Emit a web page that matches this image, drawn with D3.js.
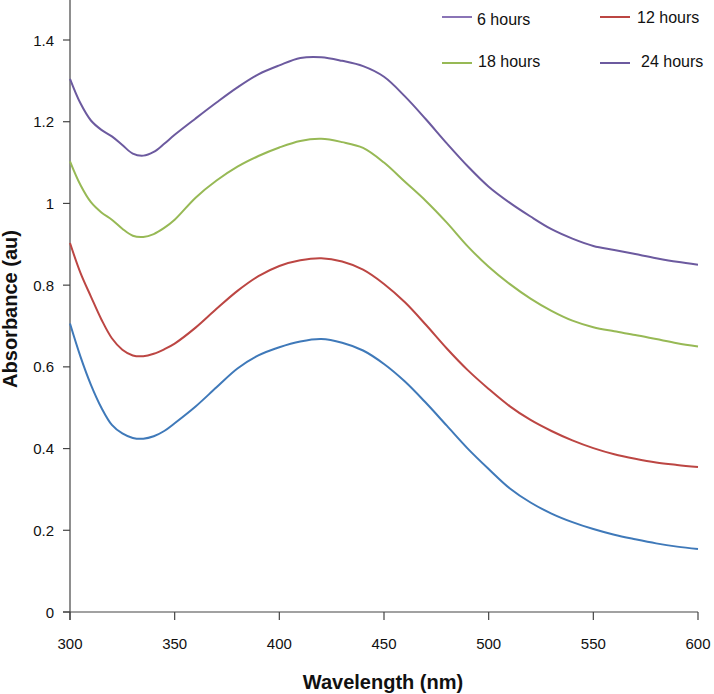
<!DOCTYPE html>
<html>
<head>
<meta charset="utf-8">
<script src="https://cdn.jsdelivr.net/npm/d3@7"></script>
<style>
  html, body { margin: 0; padding: 0; background: #fff; }
  svg { display: block; font-family: "Liberation Sans", Arial, sans-serif; }
</style>
</head>
<body>
<svg id="chart" width="714" height="694"></svg>
<script>
// ---- data ----
const wavelengths = [300,305,310,315,320,325,330,335,340,345,350,360,370,380,390,400,410,420,430,440,450,460,470,480,490,500,510,520,530,540,550,560,570,580,590,600];

const blueSeries = [0.706,0.625,0.556,0.500,0.458,0.437,0.426,0.424,0.430,0.443,0.462,0.503,0.550,0.596,0.628,0.648,0.662,0.668,0.659,0.640,0.607,0.564,0.512,0.456,0.400,0.350,0.303,0.268,0.241,0.220,0.203,0.189,0.178,0.168,0.160,0.154];
const redSeries = [0.903,0.830,0.772,0.716,0.670,0.642,0.628,0.626,0.632,0.643,0.657,0.696,0.742,0.786,0.822,0.847,0.861,0.866,0.858,0.838,0.803,0.758,0.703,0.645,0.592,0.546,0.504,0.470,0.443,0.420,0.401,0.386,0.375,0.366,0.360,0.355];
const greenSeries = [1.103,1.045,1.003,0.978,0.960,0.938,0.921,0.918,0.925,0.940,0.960,1.014,1.056,1.090,1.116,1.137,1.153,1.158,1.150,1.136,1.100,1.053,1.006,0.953,0.895,0.845,0.803,0.767,0.737,0.713,0.697,0.687,0.678,0.668,0.658,0.650];
const purpleSeries = [1.305,1.245,1.203,1.180,1.164,1.143,1.122,1.117,1.126,1.146,1.168,1.208,1.247,1.284,1.316,1.338,1.356,1.358,1.349,1.336,1.310,1.262,1.206,1.147,1.091,1.041,1.002,0.968,0.937,0.914,0.896,0.886,0.876,0.866,0.857,0.850];

const xTicks = [300,350,400,450,500,550,600];
const yTicks = [0,0.2,0.4,0.6,0.8,1,1.2,1.4];
const legendLabels = ["6 hours","12 hours","18 hours","24 hours"];

// ---- styles ----
const seriesList = [
  {values: blueSeries,   color: "#3F79B9"},
  {values: redSeries,    color: "#BC4643"},
  {values: greenSeries,  color: "#97B955"},
  {values: purpleSeries, color: "#6C5A9F"}
];
const legendColors = ["#8A74B6","#BC4643","#97B955","#6C5A9F"];

const svg = d3.select("#chart");
const x = d3.scaleLinear().domain([300,600]).range([70,698]);
const y = d3.scaleLinear().domain([0,1.4]).range([612,40]);
const axisColor = "#444";

// y axis
const yAxis = svg.append("g").attr("transform","translate(70,0)");
yAxis.append("line").attr("x1",0).attr("x2",0).attr("y1",0).attr("y2",620)
  .attr("stroke",axisColor).attr("stroke-width",1.2);
yAxis.selectAll("line.tick").data(yTicks).enter().append("line")
  .attr("class","tick").attr("x1",-7).attr("x2",0)
  .attr("y1",d=>y(d)).attr("y2",d=>y(d))
  .attr("stroke",axisColor).attr("stroke-width",1.2);
yAxis.selectAll("text").data(yTicks).enter().append("text")
  .attr("x",-16).attr("y",d=>y(d)+5.5)
  .attr("text-anchor","end").attr("font-size",15).attr("fill","#111")
  .text(d=>d3.format("~g")(d));

// x axis
const xAxis = svg.append("g").attr("transform","translate(0,612)");
xAxis.append("line").attr("x1",63).attr("x2",698).attr("y1",0).attr("y2",0)
  .attr("stroke",axisColor).attr("stroke-width",1.2);
xAxis.selectAll("line.tick").data(xTicks).enter().append("line")
  .attr("class","tick").attr("x1",d=>x(d)).attr("x2",d=>x(d))
  .attr("y1",0).attr("y2",8)
  .attr("stroke",axisColor).attr("stroke-width",1.2);
xAxis.selectAll("text").data(xTicks).enter().append("text")
  .attr("x",d=>x(d)).attr("y",37)
  .attr("text-anchor","middle").attr("font-size",15).attr("fill","#111")
  .text(d=>d);

// titles
svg.append("text").attr("x",383).attr("y",689)
  .attr("text-anchor","middle").attr("font-size",20).attr("font-weight","bold").attr("fill","#111")
  .text("Wavelength (nm)");
svg.append("text").attr("transform","translate(17,309) rotate(-90)")
  .attr("text-anchor","middle").attr("font-size",20).attr("font-weight","bold").attr("fill","#111")
  .text("Absorbance (au)");

// lines
const line = d3.line()
  .x((d,i)=>x(wavelengths[i]))
  .y(d=>y(d))
  .curve(d3.curveCatmullRom.alpha(0.5));
svg.selectAll("path.series").data(seriesList).enter().append("path")
  .attr("class","series")
  .attr("d",d=>line(d.values))
  .attr("fill","none").attr("stroke",d=>d.color).attr("stroke-width",2);

// legend
const legendPos = [
  {lx:442, ly:17, tx:477, ty:25},
  {lx:600, ly:17, tx:637, ty:23},
  {lx:442, ly:63, tx:478, ty:67},
  {lx:600, ly:63, tx:641, ty:67}
];
const lg = svg.append("g");
legendLabels.forEach((lab,i)=>{
  const p = legendPos[i];
  lg.append("line").attr("x1",p.lx).attr("x2",p.lx+30).attr("y1",p.ly).attr("y2",p.ly)
    .attr("stroke",legendColors[i]).attr("stroke-width",2);
  lg.append("text").attr("x",p.tx).attr("y",p.ty).attr("font-size",16).attr("fill","#111").text(lab);
});
</script>
</body>
</html>
